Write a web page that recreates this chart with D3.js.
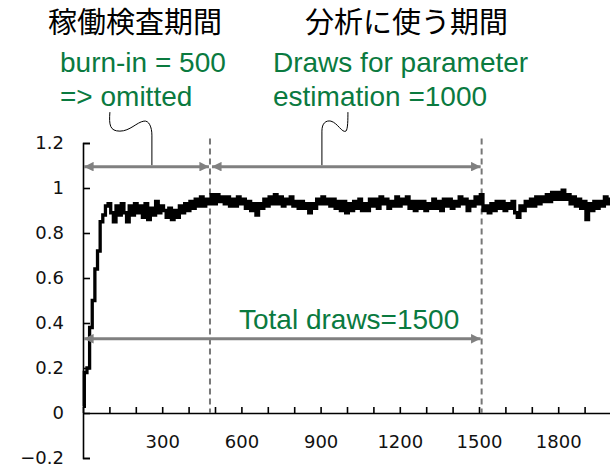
<!DOCTYPE html>
<html>
<head>
<meta charset="utf-8">
<script src="https://cdn.jsdelivr.net/npm/d3@7"></script>
<style>
body { margin: 0; background: #fff; }
svg { display: block; }
.axis text { font-family: "DejaVu Sans", sans-serif; font-size: 18px; fill: #111; }
.axis path, .axis line { stroke: #000; stroke-width: 1.6; }
.title { font-family: "Noto Sans CJK JP", sans-serif; font-size: 29px; fill: #000; }
.note { font-family: "Liberation Sans", Arial, sans-serif; font-size: 28px; fill: #0a7a3f; }
</style>
</head>
<body>
<svg width="610" height="467"></svg>
<script>
// MCMC trace, one value every `step` draws
const step = 10;
const trace = [
    0.03, 0.18, 0.20, 0.38, 0.50, 0.64, 0.72, 0.85, 0.88, 0.92,
    0.93, 0.89, 0.85, 0.92, 0.88, 0.93, 0.89, 0.85, 0.92, 0.88,
    0.93, 0.89, 0.92, 0.87, 0.93, 0.86, 0.91, 0.88, 0.94, 0.89,
    0.92, 0.90, 0.87, 0.91, 0.86, 0.90, 0.87, 0.92, 0.89, 0.93,
    0.90, 0.94, 0.91, 0.95, 0.92, 0.96, 0.92, 0.95, 0.93, 0.97,
    0.93, 0.97, 0.94, 0.96, 0.93, 0.96, 0.92, 0.95, 0.92, 0.96,
    0.93, 0.95, 0.91, 0.94, 0.90, 0.93, 0.88, 0.93, 0.91, 0.95,
    0.92, 0.96, 0.93, 0.97, 0.93, 0.96, 0.92, 0.95, 0.93, 0.96,
    0.92, 0.94, 0.91, 0.94, 0.91, 0.93, 0.89, 0.93, 0.91, 0.95,
    0.93, 0.96, 0.93, 0.95, 0.92, 0.95, 0.91, 0.94, 0.90, 0.94,
    0.89, 0.93, 0.90, 0.94, 0.91, 0.95, 0.90, 0.93, 0.90, 0.95,
    0.92, 0.95, 0.91, 0.96, 0.93, 0.95, 0.91, 0.94, 0.92, 0.96,
    0.92, 0.95, 0.93, 0.96, 0.91, 0.94, 0.90, 0.94, 0.91, 0.94,
    0.90, 0.93, 0.91, 0.95, 0.91, 0.94, 0.90, 0.95, 0.92, 0.95,
    0.91, 0.94, 0.92, 0.96, 0.93, 0.95, 0.90, 0.94, 0.92, 0.96,
    0.93, 0.97, 0.90, 0.92, 0.89, 0.93, 0.90, 0.94, 0.91, 0.94,
    0.90, 0.93, 0.91, 0.94, 0.89, 0.87, 0.92, 0.90, 0.94, 0.92,
    0.95, 0.92, 0.96, 0.93, 0.96, 0.94, 0.97, 0.94, 0.98, 0.95,
    0.98, 0.95, 0.99, 0.95, 0.97, 0.93, 0.96, 0.92, 0.95, 0.91,
    0.94, 0.86, 0.93, 0.90, 0.94, 0.91, 0.94, 0.92, 0.96, 0.93,
    0.95
];

const yTicks = [-0.2, 0, 0.2, 0.4, 0.6, 0.8, 1, 1.2];
const xMinor = [0, 100, 200, 300, 400, 500, 600, 700, 800, 900, 1000,
                1100, 1200, 1300, 1400, 1500, 1600, 1700, 1800, 1900];
const xLabels = [300, 600, 900, 1200, 1500, 1800];

// annotation values
const burnIn = 481, totalEnd = 1510;   // dashed lines, as drawn
const arrowTopY = 1.095, arrowLowY = 0.33;
const titles = ["稼働検査期間", "分析に使う期間"];
const notes = [["burn-in = 500", "=> omitted"], ["Draws for parameter", "estimation =1000"]];
const totalNote = "Total draws=1500";

const svg = d3.select("svg");

const x = d3.scaleLinear().domain([0, 2000]).range([83, 611]);
const y = d3.scaleLinear().domain([-0.2, 1.2]).range([458, 143]);

const xAxis = d3.axisBottom(x)
    .tickValues(xMinor)
    .tickSizeInner(-6).tickSizeOuter(0)
    .tickPadding(22)
    .tickFormat(d => xLabels.includes(d) ? d : "");

const yAxis = d3.axisLeft(y)
    .tickValues(yTicks)
    .tickSizeInner(-7).tickSizeOuter(-7)
    .tickPadding(19)
    .tickFormat(d => d < 0 ? "\u2212" + Math.abs(d) : d);

svg.append("g").attr("class", "axis")
    .attr("transform", "translate(0," + y(0) + ")")
    .call(xAxis);

svg.append("g").attr("class", "axis")
    .attr("transform", "translate(" + x(0) + ",0)")
    .call(yAxis);

// dashed separators
svg.append("g")
    .selectAll("line")
    .data([burnIn, totalEnd]).enter()
    .append("line")
    .attr("x1", d => x(d)).attr("x2", d => x(d))
    .attr("y1", y(1.22)).attr("y2", y(0))
    .attr("stroke", "#777").attr("stroke-width", 2)
    .attr("stroke-dasharray", "6,4");

// trace, drawn as steps to look like the blocky sampler output
const line = d3.line()
    .x((d, i) => x(i * step))
    .y(d => y(d))
    .curve(d3.curveStep);

svg.append("path")
    .datum(trace)
    .attr("d", line)
    .attr("fill", "none")
    .attr("stroke", "#000")
    .attr("stroke-width", 3.3);

// arrows
svg.append("defs").append("marker")
    .attr("id", "head")
    .attr("viewBox", "0 0 10 10")
    .attr("refX", 10).attr("refY", 5)
    .attr("markerWidth", 3.4).attr("markerHeight", 3.2)
    .attr("markerUnits", "strokeWidth")
    .attr("orient", "auto-start-reverse")
    .append("path").attr("d", "M0,0L10,5L0,10Z").attr("fill", "#808080");

const arrows = [
    {x0: 0, x1: burnIn, v: arrowTopY, pad0: 1, pad1: 1},
    {x0: burnIn, x1: totalEnd, v: arrowTopY, pad0: 2, pad1: 1},
    {x0: 0, x1: totalEnd, v: arrowLowY, pad0: 1, pad1: 1}
];

svg.append("g")
    .selectAll("line")
    .data(arrows).enter()
    .append("line")
    .attr("x1", d => x(d.x0) + d.pad0)
    .attr("x2", d => x(d.x1) - d.pad1)
    .attr("y1", d => y(d.v)).attr("y2", d => y(d.v))
    .attr("stroke", "#808080").attr("stroke-width", 3)
    .attr("marker-start", "url(#head)")
    .attr("marker-end", "url(#head)");

// wavy connectors from the arrows up to the notes
const connectors = [
    {at: 261, path: "M0,0L0,-30C0,-38 -3,-45 -8,-44C-15,-43 -22,-34 -32,-34C-42,-34 -43,-40 -42,-53"},
    {at: 905, path: "M0,0L0,-34C0,-42 4,-45 9,-44C16,-42 20,-32 24,-34C26,-36 26,-46 26,-53"}
];

svg.append("g")
    .selectAll("path")
    .data(connectors).enter()
    .append("path")
    .attr("transform", d => "translate(" + x(d.at) + "," + (y(arrowTopY) - 1.5) + ")")
    .attr("d", d => d.path)
    .attr("fill", "none")
    .attr("stroke", "#000")
    .attr("stroke-width", 1);

// headings and notes
svg.selectAll(".title")
    .data(titles).enter()
    .append("text")
    .attr("class", "title")
    .attr("x", (d, i) => [48, 305][i])
    .attr("y", 33)
    .text(d => d);

notes.forEach((lines, i) => {
    svg.append("g").selectAll("text")
        .data(lines).enter()
        .append("text")
        .attr("class", "note")
        .attr("x", [60, 273][i])
        .attr("y", (d, j) => 72 + j * 34)
        .text(d => d);
});

svg.append("text")
    .attr("class", "note")
    .attr("x", 239).attr("y", 329)
    .text(totalNote);
</script>
</body>
</html>
